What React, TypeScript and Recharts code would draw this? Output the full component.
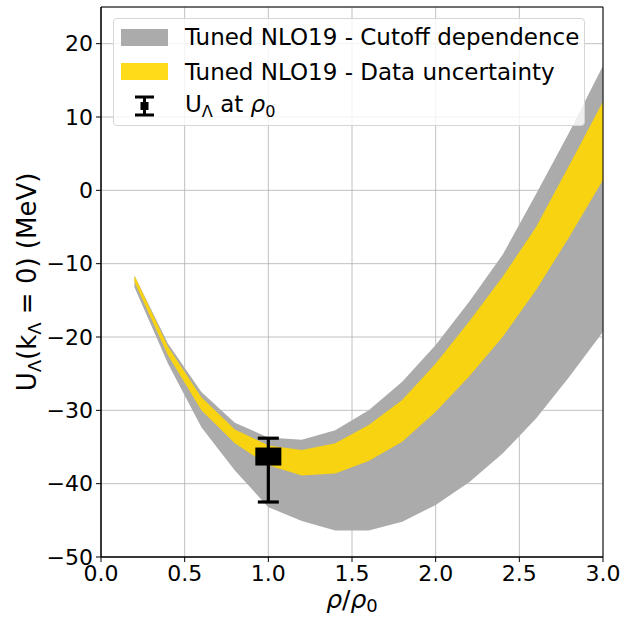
import React from "react";
import {
  ComposedChart,
  Area,
  Scatter,
  ErrorBar,
  XAxis,
  YAxis,
  CartesianGrid,
  ReferenceArea,
} from "recharts";

const FONT = "'DejaVu Sans', sans-serif";

// density grid rho/rho0
const rho = [0.2, 0.4, 0.6, 0.8, 1.0, 1.2, 1.4, 1.6, 1.8, 2.0, 2.2, 2.4, 2.6, 2.8, 3.0];
// cutoff dependence band (MeV)
const cutoffLow = [-13.2, -23.6, -32.3, -38.2, -43.2, -45.1, -46.4, -46.4, -45.2, -42.9, -39.8, -35.9, -31.1, -25.4, -19.3];
const cutoffHigh = [-11.6, -20.9, -27.5, -31.7, -33.7, -34.0, -32.7, -30.0, -26.1, -21.1, -15.2, -8.8, -0.5, 8.0, 17.0];
// data uncertainty band (MeV)
const dataLow = [-12.5, -22.5, -30.0, -34.5, -37.5, -38.9, -38.6, -36.9, -34.3, -30.2, -25.4, -20.0, -13.6, -6.3, 1.4];
const dataHigh = [-11.6, -21.3, -28.2, -32.6, -34.8, -35.4, -34.5, -32.0, -28.6, -23.6, -17.9, -11.8, -5.0, 3.5, 12.1];

// empirical point at saturation density
const pointX = [1.0];
const pointY = [-36.3];
const pointErrLow = [6.2];
const pointErrHigh = [2.5];

const xTicks = [0, 0.5, 1, 1.5, 2, 2.5, 3];
const yTicks = [-50, -40, -30, -20, -10, 0, 10, 20];

const GRAY = "#ababab";
const GOLD = "#ffd700";

const bandData = rho.map((x, i) => ({
  x,
  cutoff: [cutoffLow[i], cutoffHigh[i]],
  data: [dataLow[i], dataHigh[i]],
}));

const pointData = pointX.map((x, i) => ({
  x,
  y: pointY[i],
  err: [pointErrLow[i], pointErrHigh[i]],
}));

const fmtY = (v: number) => String(v).replace("-", "\u2212");

const Square = (props: any) => {
  const { cx, cy } = props;
  return <rect x={cx - 13} y={cy - 9} width={26} height={18} fill="#000" />;
};

const YLabel = () => (
  <text
    transform="translate(36, 282) rotate(-90)"
    textAnchor="middle"
    fontSize={26}
    fontFamily={FONT}
    fill="#000"
  >
    <tspan>U</tspan>
    <tspan fontSize={18} dy={5}>Λ</tspan>
    <tspan dy={-5}>(k</tspan>
    <tspan fontSize={18} dy={5}>Λ</tspan>
    <tspan dy={-5}> = 0) (MeV)</tspan>
  </text>
);

const XLabel = (props: any) => {
  const { viewBox } = props;
  const cx = viewBox.x + viewBox.width / 2;
  return (
    <text x={cx} y={608} textAnchor="middle" fontSize={25} fontFamily={FONT} fill="#000">
      <tspan fontStyle="italic">ρ</tspan>
      <tspan>/</tspan>
      <tspan fontStyle="italic">ρ</tspan>
      <tspan fontSize={18} dy={4}>0</tspan>
    </text>
  );
};

const sub: React.CSSProperties = { fontSize: "0.7em", verticalAlign: "-0.3em" };

function LegendBox() {
  const row: React.CSSProperties = {
    display: "flex",
    alignItems: "center",
    height: 34.5,
  };
  const patch = (c: string, o: number): React.CSSProperties => ({
    width: 47,
    height: 17,
    background: c,
    opacity: o,
    marginLeft: 7,
    marginRight: 17,
  });
  return (
    <div
      style={{
        position: "absolute",
        left: 113,
        top: 18,
        width: 472,
        height: 108,
        boxSizing: "border-box",
        background: "rgba(255,255,255,0.8)",
        border: "1px solid #d6d6d6",
        borderRadius: 4,
        fontFamily: FONT,
        fontSize: 23,
        color: "#000",
        paddingTop: 1,
        whiteSpace: "nowrap",
      }}
    >
      <div style={row}>
        <div style={patch(GRAY, 1)} />
        <span>Tuned NLO19 - Cutoff dependence</span>
      </div>
      <div style={row}>
        <div style={patch(GOLD, 0.9)} />
        <span>Tuned NLO19 - Data uncertainty</span>
      </div>
      <div style={row}>
        <svg width={47} height={24} style={{ marginLeft: 7, marginRight: 17 }}>
          <line x1={23.5} y1={3} x2={23.5} y2={21} stroke="#000" strokeWidth={3} />
          <line x1={14} y1={3} x2={33} y2={3} stroke="#000" strokeWidth={3} />
          <line x1={14} y1={21} x2={33} y2={21} stroke="#000" strokeWidth={3} />
          <rect x={19.5} y={8} width={8} height={8} fill="#000" />
        </svg>
        <span>
          U<span style={sub}>Λ</span> at <i>ρ</i>
          <span style={sub}>0</span>
        </span>
      </div>
    </div>
  );
}

export default function App() {
  return (
    <div style={{ position: "absolute", left: 0, top: 0, width: 641, height: 618, background: "#fff" }}>
      <ComposedChart
        width={641}
        height={618}
        data={bandData}
        margin={{ top: 7, right: 38, bottom: 0, left: 0 }}
      >
        <CartesianGrid stroke="#b0b0b0" strokeWidth={0.8} />
        <XAxis
          dataKey="x"
          type="number"
          domain={[0, 3]}
          ticks={xTicks}
          tickFormatter={(v: number) => v.toFixed(1)}
          height={61}
          tickSize={5}
          tickMargin={3}
          stroke="#000"
          tick={{ fontSize: 22, fill: "#000", fontFamily: FONT }}
          label={<XLabel />}
          allowDataOverflow
        />
        <YAxis
          type="number"
          domain={[-50, 25]}
          ticks={yTicks}
          tickFormatter={fmtY}
          width={101}
          tickSize={5}
          tickMargin={3}
          stroke="#000"
          tick={{ fontSize: 22, fill: "#000", fontFamily: FONT }}
          allowDataOverflow
        />
        <Area
          dataKey="cutoff"
          type="linear"
          stroke="none"
          fill={GRAY}
          fillOpacity={1}
          isAnimationActive={false}
        />
        <Area
          dataKey="data"
          type="linear"
          stroke="none"
          fill={GOLD}
          fillOpacity={0.9}
          isAnimationActive={false}
        />
        <Scatter data={pointData} dataKey="y" shape={<Square />} isAnimationActive={false}>
          <ErrorBar dataKey="err" direction="y" width={10.5} strokeWidth={3.2} stroke="#000" />
        </Scatter>
        <ReferenceArea x1={0} x2={3} y1={-50} y2={25} fill="none" stroke="#000" strokeWidth={1} />
      </ComposedChart>
      <svg style={{ position: "absolute", left: 0, top: 0 }} width={60} height={618}>
        <YLabel />
      </svg>
      <LegendBox />
    </div>
  );
}
